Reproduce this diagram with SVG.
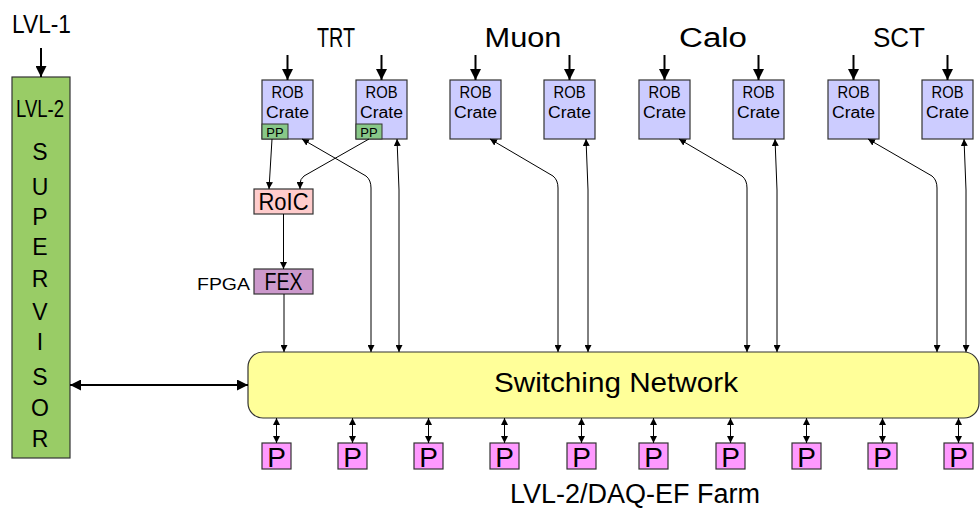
<svg xmlns="http://www.w3.org/2000/svg" width="980" height="508" viewBox="0 0 980 508">
<defs>
<marker id="ah" viewBox="0 0 10 10" refX="10" refY="5" markerWidth="7" markerHeight="7" markerUnits="userSpaceOnUse" orient="auto-start-reverse"><path d="M0,0 L10,5 L0,10 z" fill="#000"/></marker>
<marker id="ahb" viewBox="0 0 10 10" refX="10" refY="5" markerWidth="11" markerHeight="11" markerUnits="userSpaceOnUse" orient="auto-start-reverse"><path d="M0,0 L10,5 L0,10 z" fill="#000"/></marker>
</defs>
<style>
text{font-family:"Liberation Sans","DejaVu Sans",sans-serif;fill:#000;text-anchor:middle}
.rob{fill:#ccccff;stroke:#333;stroke-width:1.2}
.pp{fill:#88c888;stroke:#333;stroke-width:1}
.p{fill:#ff99ff;stroke:#333;stroke-width:1.2}
.thin{fill:none;stroke:#000;stroke-width:1;marker-end:url(#ah)}
.bi{fill:none;stroke:#000;stroke-width:1;marker-end:url(#ah);marker-start:url(#ah)}
.thick{fill:none;stroke:#000;stroke-width:2;marker-end:url(#ahb)}
.rt{font-size:16px}
.grp{font-size:27px}
.sv{font-size:23px}
.pt{font-size:28px}
</style>
<rect width="980" height="508" fill="#fff"/>

<g id="labels">
<text x="41.5" y="33" font-size="25" textLength="59" lengthAdjust="spacingAndGlyphs">LVL-1</text>
<text x="336" y="47" class="grp" textLength="38" lengthAdjust="spacingAndGlyphs">TRT</text>
<text x="523" y="47" class="grp" textLength="77" lengthAdjust="spacingAndGlyphs">Muon</text>
<text x="713" y="47" class="grp" textLength="68" lengthAdjust="spacingAndGlyphs">Calo</text>
<text x="899" y="47" class="grp" textLength="52" lengthAdjust="spacingAndGlyphs">SCT</text>
<text x="635" y="503" font-size="27" textLength="250" lengthAdjust="spacingAndGlyphs">LVL-2/DAQ-EF Farm</text>
</g>

<g id="supervisor">
<rect x="12" y="77" width="58" height="381" fill="#99cc66" stroke="#333" stroke-width="1.2"/>
<text x="40" y="117" class="sv" textLength="48" lengthAdjust="spacingAndGlyphs">LVL-2</text>
<text x="40" y="160" class="sv">S</text>
<text x="40" y="195" class="sv">U</text>
<text x="40" y="225" class="sv">P</text>
<text x="40" y="255" class="sv">E</text>
<text x="40" y="287" class="sv">R</text>
<text x="40" y="320" class="sv">V</text>
<text x="40" y="350" class="sv">I</text>
<text x="40" y="385" class="sv">S</text>
<text x="40" y="416" class="sv">O</text>
<text x="40" y="447" class="sv">R</text>
</g>

<g id="rob1"><rect class="rob" x="262" y="80" width="51" height="59"/><text class="rt" x="287.5" y="98" textLength="32" lengthAdjust="spacingAndGlyphs">ROB</text><text class="rt" x="287.5" y="118" textLength="43" lengthAdjust="spacingAndGlyphs">Crate</text>
<rect class="pp" x="262" y="124" width="26" height="15"/><text x="275" y="137" font-size="13">PP</text></g>
<g id="rob2"><rect class="rob" x="356" y="80" width="51" height="59"/><text class="rt" x="381.5" y="98" textLength="32" lengthAdjust="spacingAndGlyphs">ROB</text><text class="rt" x="381.5" y="118" textLength="43" lengthAdjust="spacingAndGlyphs">Crate</text>
<rect class="pp" x="356" y="124" width="26" height="15"/><text x="369" y="137" font-size="13">PP</text></g>
<g id="rob3"><rect class="rob" x="450" y="80" width="51" height="59"/><text class="rt" x="475.5" y="98" textLength="32" lengthAdjust="spacingAndGlyphs">ROB</text><text class="rt" x="475.5" y="118" textLength="43" lengthAdjust="spacingAndGlyphs">Crate</text></g>
<g id="rob4"><rect class="rob" x="544" y="80" width="51" height="59"/><text class="rt" x="569.5" y="98" textLength="32" lengthAdjust="spacingAndGlyphs">ROB</text><text class="rt" x="569.5" y="118" textLength="43" lengthAdjust="spacingAndGlyphs">Crate</text></g>
<g id="rob5"><rect class="rob" x="639" y="80" width="51" height="59"/><text class="rt" x="664.5" y="98" textLength="32" lengthAdjust="spacingAndGlyphs">ROB</text><text class="rt" x="664.5" y="118" textLength="43" lengthAdjust="spacingAndGlyphs">Crate</text></g>
<g id="rob6"><rect class="rob" x="733" y="80" width="51" height="59"/><text class="rt" x="758.5" y="98" textLength="32" lengthAdjust="spacingAndGlyphs">ROB</text><text class="rt" x="758.5" y="118" textLength="43" lengthAdjust="spacingAndGlyphs">Crate</text></g>
<g id="rob7"><rect class="rob" x="828" y="80" width="51" height="59"/><text class="rt" x="853.5" y="98" textLength="32" lengthAdjust="spacingAndGlyphs">ROB</text><text class="rt" x="853.5" y="118" textLength="43" lengthAdjust="spacingAndGlyphs">Crate</text></g>
<g id="rob8"><rect class="rob" x="922" y="80" width="51" height="59"/><text class="rt" x="947.5" y="98" textLength="32" lengthAdjust="spacingAndGlyphs">ROB</text><text class="rt" x="947.5" y="118" textLength="43" lengthAdjust="spacingAndGlyphs">Crate</text></g>

<g id="roic"><rect x="254" y="189" width="59" height="25" fill="#ffcccc" stroke="#333" stroke-width="1.2"/><text x="283.5" y="210" font-size="23" textLength="50" lengthAdjust="spacingAndGlyphs">RoIC</text></g>
<g id="fex"><rect x="254" y="269" width="59" height="25" fill="#cc99cc" stroke="#333" stroke-width="1.2"/><text x="283.5" y="290" font-size="23" textLength="38" lengthAdjust="spacingAndGlyphs">FEX</text>
<text x="223.5" y="290" font-size="17" textLength="53" lengthAdjust="spacingAndGlyphs">FPGA</text></g>

<g id="network"><rect x="248" y="352" width="731" height="66" rx="15" ry="15" fill="#ffff99" stroke="#333" stroke-width="1.2"/><text x="616" y="392" font-size="28" textLength="244" lengthAdjust="spacingAndGlyphs">Switching Network</text></g>

<g id="farm">
<g id="p1"><rect class="p" x="262" y="443" width="29" height="26"/><text class="pt" x="276.5" y="467">P</text></g>
<g id="p2"><rect class="p" x="338" y="443" width="29" height="26"/><text class="pt" x="352.5" y="467">P</text></g>
<g id="p3"><rect class="p" x="414" y="443" width="29" height="26"/><text class="pt" x="428.5" y="467">P</text></g>
<g id="p4"><rect class="p" x="490" y="443" width="29" height="26"/><text class="pt" x="504.5" y="467">P</text></g>
<g id="p5"><rect class="p" x="567" y="443" width="29" height="26"/><text class="pt" x="581.5" y="467">P</text></g>
<g id="p6"><rect class="p" x="639" y="443" width="29" height="26"/><text class="pt" x="653.5" y="467">P</text></g>
<g id="p7"><rect class="p" x="716" y="443" width="29" height="26"/><text class="pt" x="730.5" y="467">P</text></g>
<g id="p8"><rect class="p" x="792" y="443" width="29" height="26"/><text class="pt" x="806.5" y="467">P</text></g>
<g id="p9"><rect class="p" x="868" y="443" width="29" height="26"/><text class="pt" x="882.5" y="467">P</text></g>
<g id="p10"><rect class="p" x="944" y="443" width="29" height="26"/><text class="pt" x="958.5" y="467">P</text></g>
</g>

<g id="connectors">
<line class="thick" x1="41" y1="48" x2="41" y2="77"/>
<line class="thick" x1="287.5" y1="55" x2="287.5" y2="80"/>
<line class="thick" x1="381.5" y1="55" x2="381.5" y2="80"/>
<line class="thick" x1="475.5" y1="55" x2="475.5" y2="80"/>
<line class="thick" x1="569.5" y1="55" x2="569.5" y2="80"/>
<line class="thick" x1="664.5" y1="55" x2="664.5" y2="80"/>
<line class="thick" x1="758.5" y1="55" x2="758.5" y2="80"/>
<line class="thick" x1="853.5" y1="55" x2="853.5" y2="80"/>
<line class="thick" x1="947.5" y1="55" x2="947.5" y2="80"/>
<line x1="70" y1="385" x2="248" y2="385" stroke="#000" stroke-width="2" marker-start="url(#ahb)" marker-end="url(#ahb)"/>

<line class="thin" x1="272" y1="139" x2="269" y2="189"/>
<path class="thin" d="M369,139 L304,176 Q300,179 300,184 L300,189"/>
<line class="thin" x1="283.5" y1="214" x2="283.5" y2="269"/>
<line class="thin" x1="284" y1="294" x2="284" y2="352"/>

<path class="bi" d="M302,139 L366,176 Q371,180 371,188 L371,352"/>
<path class="bi" d="M397,139 L399,190 L399,352"/>
<path class="bi" d="M490,139 L553,176 Q558,180 558,188 L558,352"/>
<path class="bi" d="M586,139 L588,190 L588,352"/>
<path class="bi" d="M679,139 L742,176 Q747,180 747,188 L747,352"/>
<path class="bi" d="M775,139 L777,190 L777,352"/>
<path class="bi" d="M868,139 L932,176 Q937,180 937,188 L937,352"/>
<path class="bi" d="M964,139 L966,190 L966,352"/>

<line class="bi" x1="276.5" y1="418" x2="276.5" y2="443"/>
<line class="bi" x1="352.5" y1="418" x2="352.5" y2="443"/>
<line class="bi" x1="428.5" y1="418" x2="428.5" y2="443"/>
<line class="bi" x1="504.5" y1="418" x2="504.5" y2="443"/>
<line class="bi" x1="581.5" y1="418" x2="581.5" y2="443"/>
<line class="bi" x1="653.5" y1="418" x2="653.5" y2="443"/>
<line class="bi" x1="730.5" y1="418" x2="730.5" y2="443"/>
<line class="bi" x1="806.5" y1="418" x2="806.5" y2="443"/>
<line class="bi" x1="882.5" y1="418" x2="882.5" y2="443"/>
<line class="bi" x1="958.5" y1="418" x2="958.5" y2="443"/>
</g>
</svg>
